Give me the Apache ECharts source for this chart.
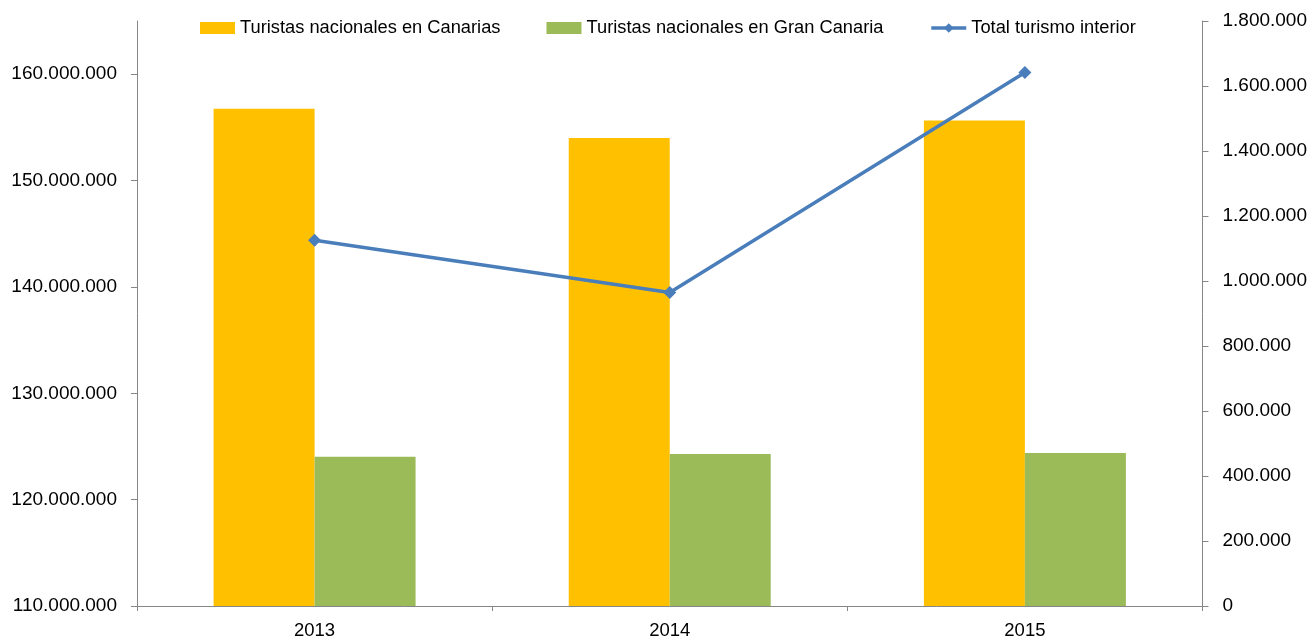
<!DOCTYPE html>
<html>
<head>
<meta charset="utf-8">
<script src="https://cdn.jsdelivr.net/npm/echarts@6/dist/echarts.min.js"></script>
<style>
html,body{margin:0;padding:0;background:#fff;}
#chart{width:1310px;height:643px;}
</style>
</head>
<body>
<div id="chart"></div>
<script>
const categories = ['2013', '2014', '2015'];
const canarias = [1530000, 1440000, 1494000];
const granCanaria = [459000, 468000, 471000];
const totalInterior = [144380000, 139470000, 160160000];
const leftTicks = [110000000, 120000000, 130000000, 140000000, 150000000, 160000000];
const seriesNames = ['Turistas nacionales en Canarias', 'Turistas nacionales en Gran Canaria', 'Total turismo interior'];

function fmt(v) {
  return String(Math.round(v)).replace(/\B(?=(\d{3})+(?!\d))/g, '.');
}

const FONT = 'Liberation Sans';
const chart = echarts.init(document.getElementById('chart'));
chart.setOption({
  animation: false,
  textStyle: { fontFamily: FONT },
  grid: { left: 137, right: 107, top: 21, bottom: 37, containLabel: false },
  legend: {
    left: 195, top: 14,
    itemWidth: 35, itemHeight: 12, itemGap: 46,
    textStyle: { fontFamily: FONT, fontSize: 18.3, color: '#000' },
    data: [
      { name: seriesNames[0], icon: 'rect' },
      { name: seriesNames[1], icon: 'rect' },
      { name: seriesNames[2], lineStyle: { width: 3.5, color: '#4a7ebb' } }
    ]
  },
  xAxis: {
    type: 'category',
    data: categories,
    axisLine: { lineStyle: { color: '#868686', width: 1 } },
    axisTick: { show: true, length: 5, lineStyle: { color: '#868686' } },
    axisLabel: { color: '#000', fontSize: 18.5, margin: 15, fontFamily: FONT },
    splitLine: { show: false }
  },
  yAxis: [
    {
      type: 'value',
      position: 'left',
      min: 110000000, max: 165000000, interval: 10000000,
      axisLine: { show: true, lineStyle: { color: '#868686' } },
      axisTick: { show: true, length: 6, customValues: leftTicks, lineStyle: { color: '#868686' } },
      axisLabel: { color: '#000', fontSize: 19, margin: 20, fontFamily: FONT, customValues: leftTicks, formatter: fmt },
      splitLine: { show: false }
    },
    {
      type: 'value',
      position: 'right',
      min: 0, max: 1800000, interval: 200000,
      axisLine: { show: true, lineStyle: { color: '#868686' } },
      axisTick: { show: true, length: 6, lineStyle: { color: '#868686' } },
      axisLabel: { color: '#000', fontSize: 19, margin: 20, fontFamily: FONT, formatter: fmt },
      splitLine: { show: false }
    }
  ],
  series: [
    {
      name: seriesNames[0], type: 'bar', yAxisIndex: 1,
      data: canarias, barWidth: 101, barGap: '0%',
      itemStyle: { color: '#ffc000' }, z: 2
    },
    {
      name: seriesNames[1], type: 'bar', yAxisIndex: 1,
      data: granCanaria, barWidth: 101, barGap: '0%',
      itemStyle: { color: '#9bbb59' }, z: 2
    },
    {
      name: seriesNames[2], type: 'line', yAxisIndex: 0,
      data: totalInterior,
      symbol: 'diamond', symbolSize: 13,
      lineStyle: { color: '#4a7ebb', width: 3.5 },
      itemStyle: { color: '#4a7ebb' },
      z: 5
    }
  ]
});
</script>
</body>
</html>
